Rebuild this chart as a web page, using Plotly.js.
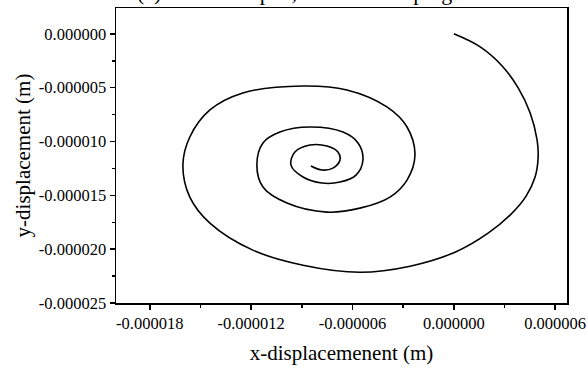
<!DOCTYPE html>
<html>
<head>
<meta charset="utf-8">
<script src="https://cdn.plot.ly/plotly-3.0.1.min.js"></script>
<style>html,body{margin:0;padding:0;background:#fff;}#chart{width:588px;height:373px;}</style>
</head>
<body>
<div id="chart"></div>
<script>
// Trajectory (micrometres)
const xDisp = [0, 1.56, 2.86, 3.81, 4.52, 4.93, 4.99, 4.81, 4.28, 3.39, 2.03, 0.07, -2.59, -5.56, -8.93, -11.90, -14.44, -15.63, -16.04, -15.63, -14.44, -12.49, -8.93, -6.33, -3.96, -2.77, -2.30, -2.77, -3.78, -5.56, -7.51, -9.88, -11.30, -11.66, -11.30, -10.30, -8.52, -6.56, -5.67, -5.38, -5.79, -6.74, -7.81, -8.93, -9.64, -9.41, -8.52, -7.51, -6.86, -6.74, -7.16, -7.81, -8.46];
const yDisp = [0, -1.21, -2.98, -5.02, -7.35, -9.86, -11.53, -13.30, -15.07, -16.74, -18.51, -20.28, -21.58, -22.14, -21.49, -20.09, -17.58, -15.16, -12.19, -9.58, -7.07, -5.49, -4.84, -5.21, -6.79, -8.65, -11.26, -13.58, -15.16, -16.19, -16.56, -15.72, -14.23, -12.19, -10.14, -9.12, -8.65, -9.12, -10.14, -11.72, -13.12, -13.77, -13.86, -13.30, -12.19, -10.98, -10.33, -10.42, -10.98, -11.72, -12.47, -12.65, -12.28];
const xTickVals = [-18, -12, -6, 0, 6];
const xTickText = ["-0.000018", "-0.000012", "-0.000006", "0.000000", "0.000006"];
const xMinorVals = [-15, -9, -3, 3];
const yTickVals = [0, -5, -10, -15, -20, -25];
const yTickText = ["0.000000", "-0.000005", "-0.000010", "-0.000015", "-0.000020", "-0.000025"];
const yMinorVals = [-2.5, -7.5, -12.5, -17.5, -22.5];
const titleText = "(a) Underdamped, without damping";

const s = 1e-6;
const trace = {
  x: xDisp.map(v => v * s),
  y: yDisp.map(v => v * s),
  type: 'scatter',
  mode: 'lines',
  line: {color: '#000', width: 1.6, shape: 'spline', smoothing: 1.0},
  hoverinfo: 'skip'
};
const font = {family: '"Liberation Serif", "Times New Roman", serif', color: '#000'};
const layout = {
  width: 588, height: 373,
  margin: {l: 116, r: 21, t: 8, b: 70},
  paper_bgcolor: '#fff', plot_bgcolor: '#fff',
  showlegend: false,
  font: Object.assign({size: 16.5}, font),
  xaxis: {
    range: [-20.0e-6, 6.7e-6],
    tickmode: 'array', tickvals: xTickVals.map(v => v * s), ticktext: xTickText,
    ticks: 'outside', ticklen: 5, tickwidth: 1.5, tickcolor: '#000',
    minor: {tickmode: 'array', tickvals: xMinorVals.map(v => v * s), ticks: 'outside', ticklen: 3, tickwidth: 1.5, tickcolor: '#000', showgrid: false},
    showline: true, linecolor: '#000', linewidth: 1.5, mirror: true,
    showgrid: false, zeroline: false,
    tickfont: Object.assign({size: 16.5}, font),
    title: {text: 'x-displacemenent (m)', font: Object.assign({size: 21}, font), standoff: 13}
  },
  yaxis: {
    range: [-25e-6, 2.4e-6],
    tickmode: 'array', tickvals: yTickVals.map(v => v * s), ticktext: yTickText,
    ticks: 'outside', ticklen: 5, tickwidth: 1.5, tickcolor: '#000',
    minor: {tickmode: 'array', tickvals: yMinorVals.map(v => v * s), ticks: 'outside', ticklen: 3, tickwidth: 1.5, tickcolor: '#000', showgrid: false},
    showline: true, linecolor: '#000', linewidth: 1.5, mirror: true,
    showgrid: false, zeroline: false,
    tickfont: Object.assign({size: 16.5}, font),
    title: {text: 'y-displacement (m)', font: Object.assign({size: 21}, font), standoff: 2}
  },
  annotations: [{
    text: titleText, xref: 'paper', yref: 'paper',
    x: (135 - 116) / 451, xanchor: 'left',
    y: 1.054, yanchor: 'middle', showarrow: false,
    font: Object.assign({size: 22}, font)
  }]
};
Plotly.newPlot('chart', [trace], layout, {displayModeBar: false, staticPlot: true});
</script>
</body>
</html>
